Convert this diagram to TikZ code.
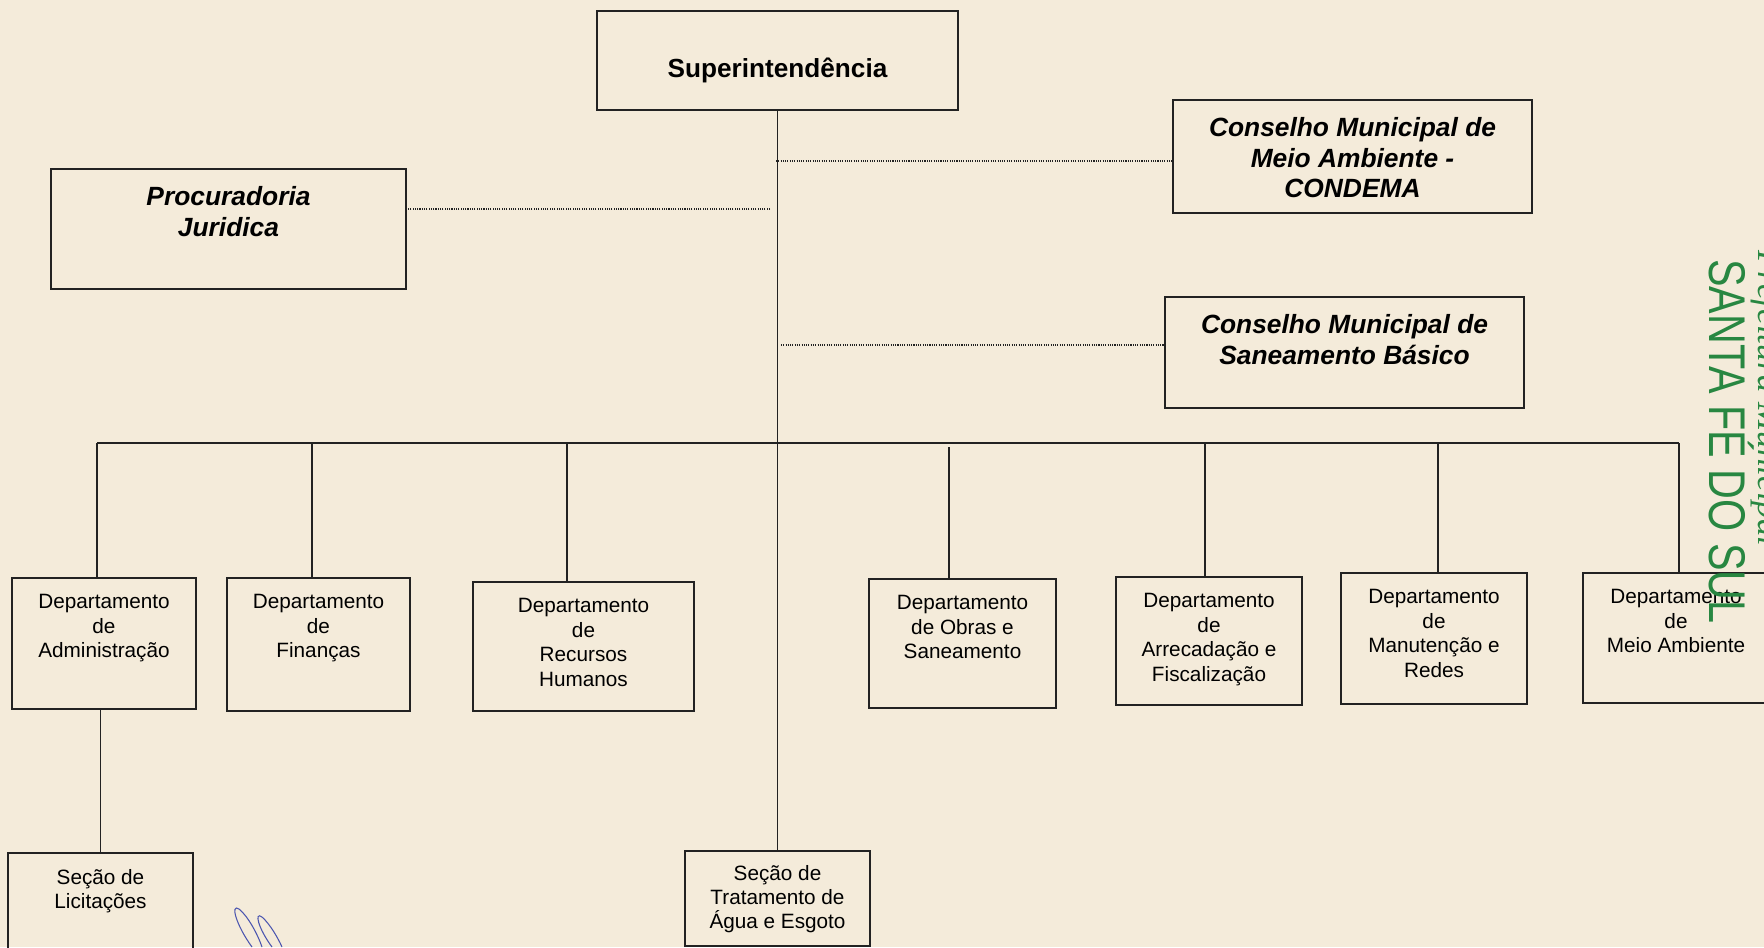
\documentclass[tikz,border=0pt]{standalone}
\usepackage{fontspec}
\setmainfont{Liberation Sans}
\newfontfamily\stampserif{Liberation Serif}
\usepackage{tikz}
\usetikzlibrary{calc, positioning}

\definecolor{paper}{RGB}{244,235,218}
\definecolor{ink}{RGB}{34,34,34}
\definecolor{stamp}{RGB}{40,135,65}
\definecolor{pen}{RGB}{75,85,175}

\begin{document}
\begin{tikzpicture}[% styles used in the chart
          x = 0.02cm, y = -0.02cm, % one unit = one pixel of the scan
   line/.style = {draw=ink, line width=0.85pt},
   link/.style = {draw=ink, line width=0.8pt, dash pattern=on 0.6pt off 0.7pt},
   sign/.style = {draw=pen, line width=0.6pt},
org/.style n args = {3}{draw=ink, line width=0.85pt,
              inner sep=0pt, outer sep=0pt,
              execute at begin node={\begin{minipage}[c][#2][t]{#1}\centering\vspace*{#3}},
              execute at end node={\end{minipage}}},
dept/.style 2 args = {org={#1}{#2}{0.33cm},
              font=\fontsize{11.8pt}{13.9pt}\selectfont},
sect/.style 2 args = {org={#1}{#2}{0.28cm},
              font=\fontsize{11.8pt}{13.9pt}\selectfont},
board/.style 2 args = {org={#1}{#2}{0.35cm},
              font=\fontsize{15pt}{17.3pt}\selectfont\bfseries\itshape},
   head/.style = {org={7.22cm}{1.98cm}{0.93cm},
              font=\fontsize{14.9pt}{17pt}\selectfont\bfseries},
   seal/.style = {text=stamp, rotate=-90, inner sep=0pt, anchor=base west}
                    ]
	% paper
	\useasboundingbox (0,0) rectangle (1764,947);
	\clip (0,0) rectangle (1764,947);
	\fill[paper] (0,0) rectangle (1764,947);

	% top of the chart
	\node[head] (sup) at (777.5,60.5) {Superintendência};
	\node[board={7.10cm}{2.40cm}] (proc) at (228.5,229) {Procuradoria\\ Juridica};
	\node[board={7.18cm}{2.26cm}] (condema) at (1352.5,156.5) {Conselho Municipal de\\ Meio Ambiente -\\ CONDEMA};
	\node[board={7.18cm}{2.22cm}] (csb) at (1344.5,352.5) {Conselho Municipal de\\ Saneamento Básico};

	% departments
	\node[dept={3.68cm}{2.62cm}] (adm) at (104,643.5) {Departamento\\ de\\ Administração};
	\node[dept={3.66cm}{2.66cm}] (fin) at (318.5,644.5) {Departamento\\ de\\ Finanças};
	\node[dept={4.42cm}{2.58cm}] (rh) at (583.5,646.5) {Departamento\\ de\\ Recursos\\ Humanos};
	\node[dept={3.74cm}{2.58cm}] (obr) at (962.5,643.5) {Departamento\\ de Obras e\\ Saneamento};
	\node[dept={3.72cm}{2.56cm}] (arr) at (1209,641) {Departamento\\ de\\ Arrecadação e\\ Fiscalização};
	\node[dept={3.72cm}{2.62cm}] (man) at (1434,638.5) {Departamento\\ de\\ Manutenção e\\ Redes};
	\node[dept={3.72cm}{2.60cm}] (mam) at (1676,638) {Departamento\\ de\\ Meio Ambiente};

	% sections
	\node[dept={3.70cm}{2.20cm}] (lic) at (100.5,908) {Seção de\\ Licitações};
	\node[sect={3.70cm}{1.90cm}] (eta) at (777.5,898.5) {Seção de\\ Tratamento de\\ Água e Esgoto};

	% trunk and bus
	\coordinate (bus-w) at (97,443);
	\coordinate (bus-e) at (1679,443);
	\coordinate (bus-fin) at (312,443);
	\coordinate (bus-rh) at (567,443);
	\coordinate (bus-obr) at (949,447);
	\coordinate (bus-arr) at (1205,443);
	\coordinate (bus-man) at (1438,443);

	\draw[line] (sup.south) -- (eta.north);
	\draw[line] (bus-w) -- (bus-e);
	\draw[line] (bus-w) -- (bus-w |- adm.north);
	\draw[line] (bus-fin) -- (bus-fin |- fin.north);
	\draw[line] (bus-rh) -- (bus-rh |- rh.north);
	\draw[line] (bus-obr) -- (bus-obr |- obr.north);
	\draw[line] (bus-arr) -- (bus-arr |- arr.north);
	\draw[line] (bus-man) -- (bus-man |- man.north);
	\draw[line] (bus-e) -- (bus-e |- mam.north);
	\draw[line] (lic.north |- adm.south) -- (lic.north);

	% advisory links
	\coordinate (j-proc) at (770,209);
	\coordinate (j-condema) at (776,161);
	\coordinate (j-csb) at (781,345);
	\draw[link] (j-proc) -- (j-proc -| proc.east);
	\draw[link] (j-condema) -- (j-condema -| condema.west);
	\draw[link] (j-csb) -- (j-csb -| csb.west);

	% stamp and signature on the scan
	\node[seal, font=\fontsize{23.5pt}{23.5pt}\selectfont] (city) at (1709,259) {\scalebox{1}[1.25]{SANTA FÉ DO SUL}};
	\node[seal, font=\stampserif\itshape\fontsize{20pt}{20pt}\selectfont] (pref) at (1758,250) {Prefeitura Municipal};
	\draw[sign] (252,947) .. controls (236,925) and (230,903) .. (239,909) .. controls (248,916) and (258,935) .. (262,947);
	\draw[sign] (272,947) .. controls (258,928) and (254,911) .. (262,917) .. controls (270,924) and (278,938) .. (282,947);
\end{tikzpicture}
\end{document}
